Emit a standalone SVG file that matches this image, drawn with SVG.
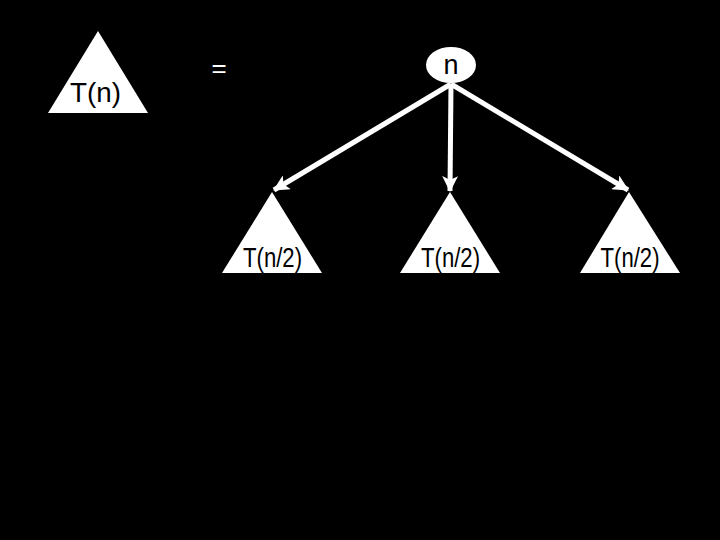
<svg xmlns="http://www.w3.org/2000/svg" width="720" height="540" viewBox="0 0 720 540">
<defs>
<style>
.tri{fill:#fff;stroke:none}
.lbl{font-family:"Liberation Sans",Arial,sans-serif;font-size:27px;fill:#000;text-anchor:middle}
.big{font-size:28px}
.eq{font-family:"Liberation Sans",Arial,sans-serif;font-size:26px;fill:#fff;text-anchor:middle}
.edge{stroke:#fff;stroke-width:5;fill:none;marker-end:url(#arr)}
</style>
<marker id="arr" viewBox="0 0 16 16" markerWidth="16" markerHeight="16" markerUnits="userSpaceOnUse" refX="15" refY="8" orient="auto">
<path d="M0,0 L16,8 L0,16 L4,8 z" fill="#fff"/>
</marker>
</defs>
<rect width="720" height="540" fill="#000"/>
<g id="Tn">
<polygon class="tri" points="98,31 48,113 148,113"/>
<text class="lbl big" x="95.5" y="102" textLength="51" lengthAdjust="spacingAndGlyphs">T(n)</text>
</g>
<g id="equals">
<text class="eq" x="219" y="77">=</text>
</g>
<g id="root">
<ellipse cx="451" cy="65" rx="25" ry="18" fill="#fff"/>
<text class="lbl" x="451" y="74">n</text>
</g>
<g id="left">
<polygon class="tri" points="272,192 222,273 322,273"/>
<text class="lbl" x="272.5" y="267" textLength="59" lengthAdjust="spacingAndGlyphs">T(n/2)</text>
</g>
<g id="mid">
<polygon class="tri" points="450,192 400,273 500,273"/>
<text class="lbl" x="450.5" y="267" textLength="59" lengthAdjust="spacingAndGlyphs">T(n/2)</text>
</g>
<g id="right">
<polygon class="tri" points="629,192 580,273 680,273"/>
<text class="lbl" x="630" y="267" textLength="59" lengthAdjust="spacingAndGlyphs">T(n/2)</text>
</g>
<g id="connectors">
<line class="edge" x1="451" y1="84" x2="274" y2="190"/>
<line class="edge" x1="451" y1="84" x2="450" y2="191"/>
<line class="edge" x1="451" y1="84" x2="628" y2="190"/>
</g>
</svg>
